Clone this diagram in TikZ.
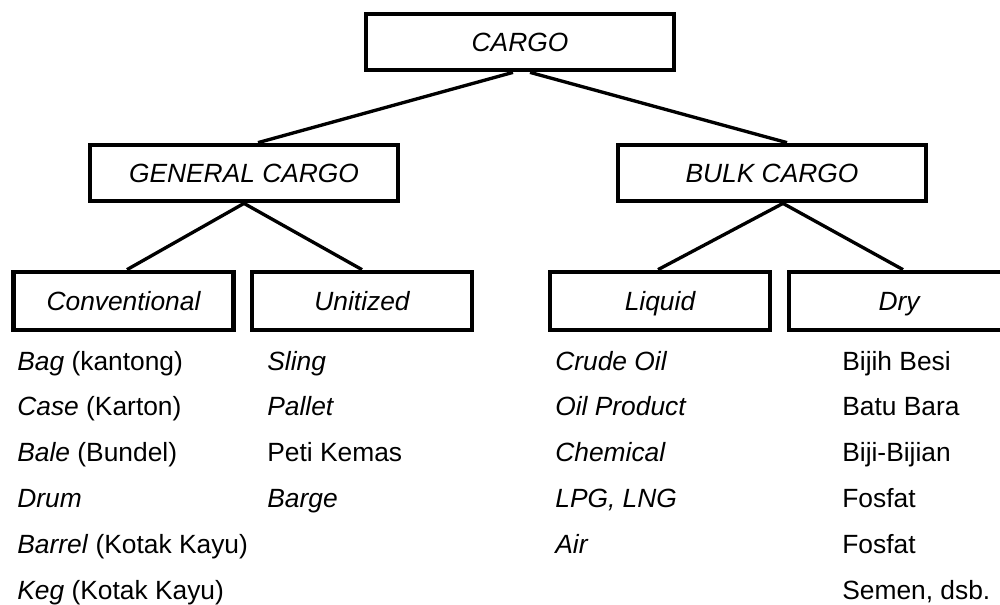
\documentclass[tikz,border=0pt]{standalone}
\usepackage{fontspec}
\setmainfont{Liberation Sans}
\usetikzlibrary{positioning}

\begin{document}
\begin{tikzpicture}[
		every node/.style={font=\fontsize{15pt}{18pt}\selectfont}
	]

	\tikzset{
		box/.style={
				draw, line width=2.7pt, inner sep=0pt, minimum height=1.12cm, text height=0.38cm, text depth=0pt, font=\fontsize{15pt}{18pt}\selectfont\itshape
			},
		topbox/.style={
				box, minimum width=6.16cm
			},
		subbox/.style={
				box, minimum width=4.4cm, minimum height=1.16cm
			},
		item/.style={
				anchor=base west, inner sep=0pt
			},
		link/.style={
				line width=1.9pt
			},
	}
	\clip (0,0) rectangle (20,-12.08);

	\node[topbox](cargo) at (10.4,-0.84){CARGO};
	\node[topbox](general) at (4.88,-3.46){GENERAL CARGO};
	\node[topbox](bulk) at (15.44,-3.46){BULK CARGO};

	\node[subbox](conv) at (2.47,-6.02){Conventional};
	\node[subbox](unit) at (7.24,-6.02){Unitized};
	\node[subbox](liquid) at (13.2,-6.02){Liquid};
	\node[subbox](dry) at (17.98,-6.02){Dry};

	\draw[link] ([xshift=-0.14cm]cargo.south) to ([xshift=0.28cm]general.north);
	\draw[link] ([xshift=0.2cm]cargo.south) to ([xshift=0.3cm]bulk.north);
	\draw[link] (general.south) to ([xshift=0.07cm]conv.north);
	\draw[link] (general.south) to (unit.north);
	\draw[link] ([xshift=0.22cm]bulk.south) to ([xshift=-0.04cm]liquid.north);
	\draw[link] ([xshift=0.22cm]bulk.south) to ([xshift=0.08cm]dry.north);

	\node[item](c1) at (0.34,-7.40){\textit{Bag} (kantong)};
	\node[item, below=0.916cm of c1.base west, anchor=base west](c2){\textit{Case} (Karton)};
	\node[item, below=0.916cm of c2.base west, anchor=base west](c3){\textit{Bale} (Bundel)};
	\node[item, below=0.916cm of c3.base west, anchor=base west](c4){\textit{Drum}};
	\node[item, below=0.916cm of c4.base west, anchor=base west](c5){\textit{Barrel} (Kotak Kayu)};
	\node[item, below=0.916cm of c5.base west, anchor=base west](c6){\textit{Keg} (Kotak Kayu)};

	\node[item](u1) at (5.34,-7.40){\textit{Sling}};
	\node[item, below=0.916cm of u1.base west, anchor=base west](u2){\textit{Pallet}};
	\node[item, below=0.916cm of u2.base west, anchor=base west](u3){Peti Kemas};
	\node[item, below=0.916cm of u3.base west, anchor=base west](u4){\textit{Barge}};

	\node[item](l1) at (11.1,-7.40){\textit{Crude Oil}};
	\node[item, below=0.916cm of l1.base west, anchor=base west](l2){\textit{Oil Product}};
	\node[item, below=0.916cm of l2.base west, anchor=base west](l3){\textit{Chemical}};
	\node[item, below=0.916cm of l3.base west, anchor=base west](l4){\textit{LPG, LNG}};
	\node[item, below=0.916cm of l4.base west, anchor=base west](l5){\textit{Air}};

	\node[item](d1) at (16.84,-7.40){Bijih Besi};
	\node[item, below=0.916cm of d1.base west, anchor=base west](d2){Batu Bara};
	\node[item, below=0.916cm of d2.base west, anchor=base west](d3){Biji-Bijian};
	\node[item, below=0.916cm of d3.base west, anchor=base west](d4){Fosfat};
	\node[item, below=0.916cm of d4.base west, anchor=base west](d5){Fosfat};
	\node[item, below=0.916cm of d5.base west, anchor=base west](d6){Semen, dsb.};

\end{tikzpicture}
\end{document}
